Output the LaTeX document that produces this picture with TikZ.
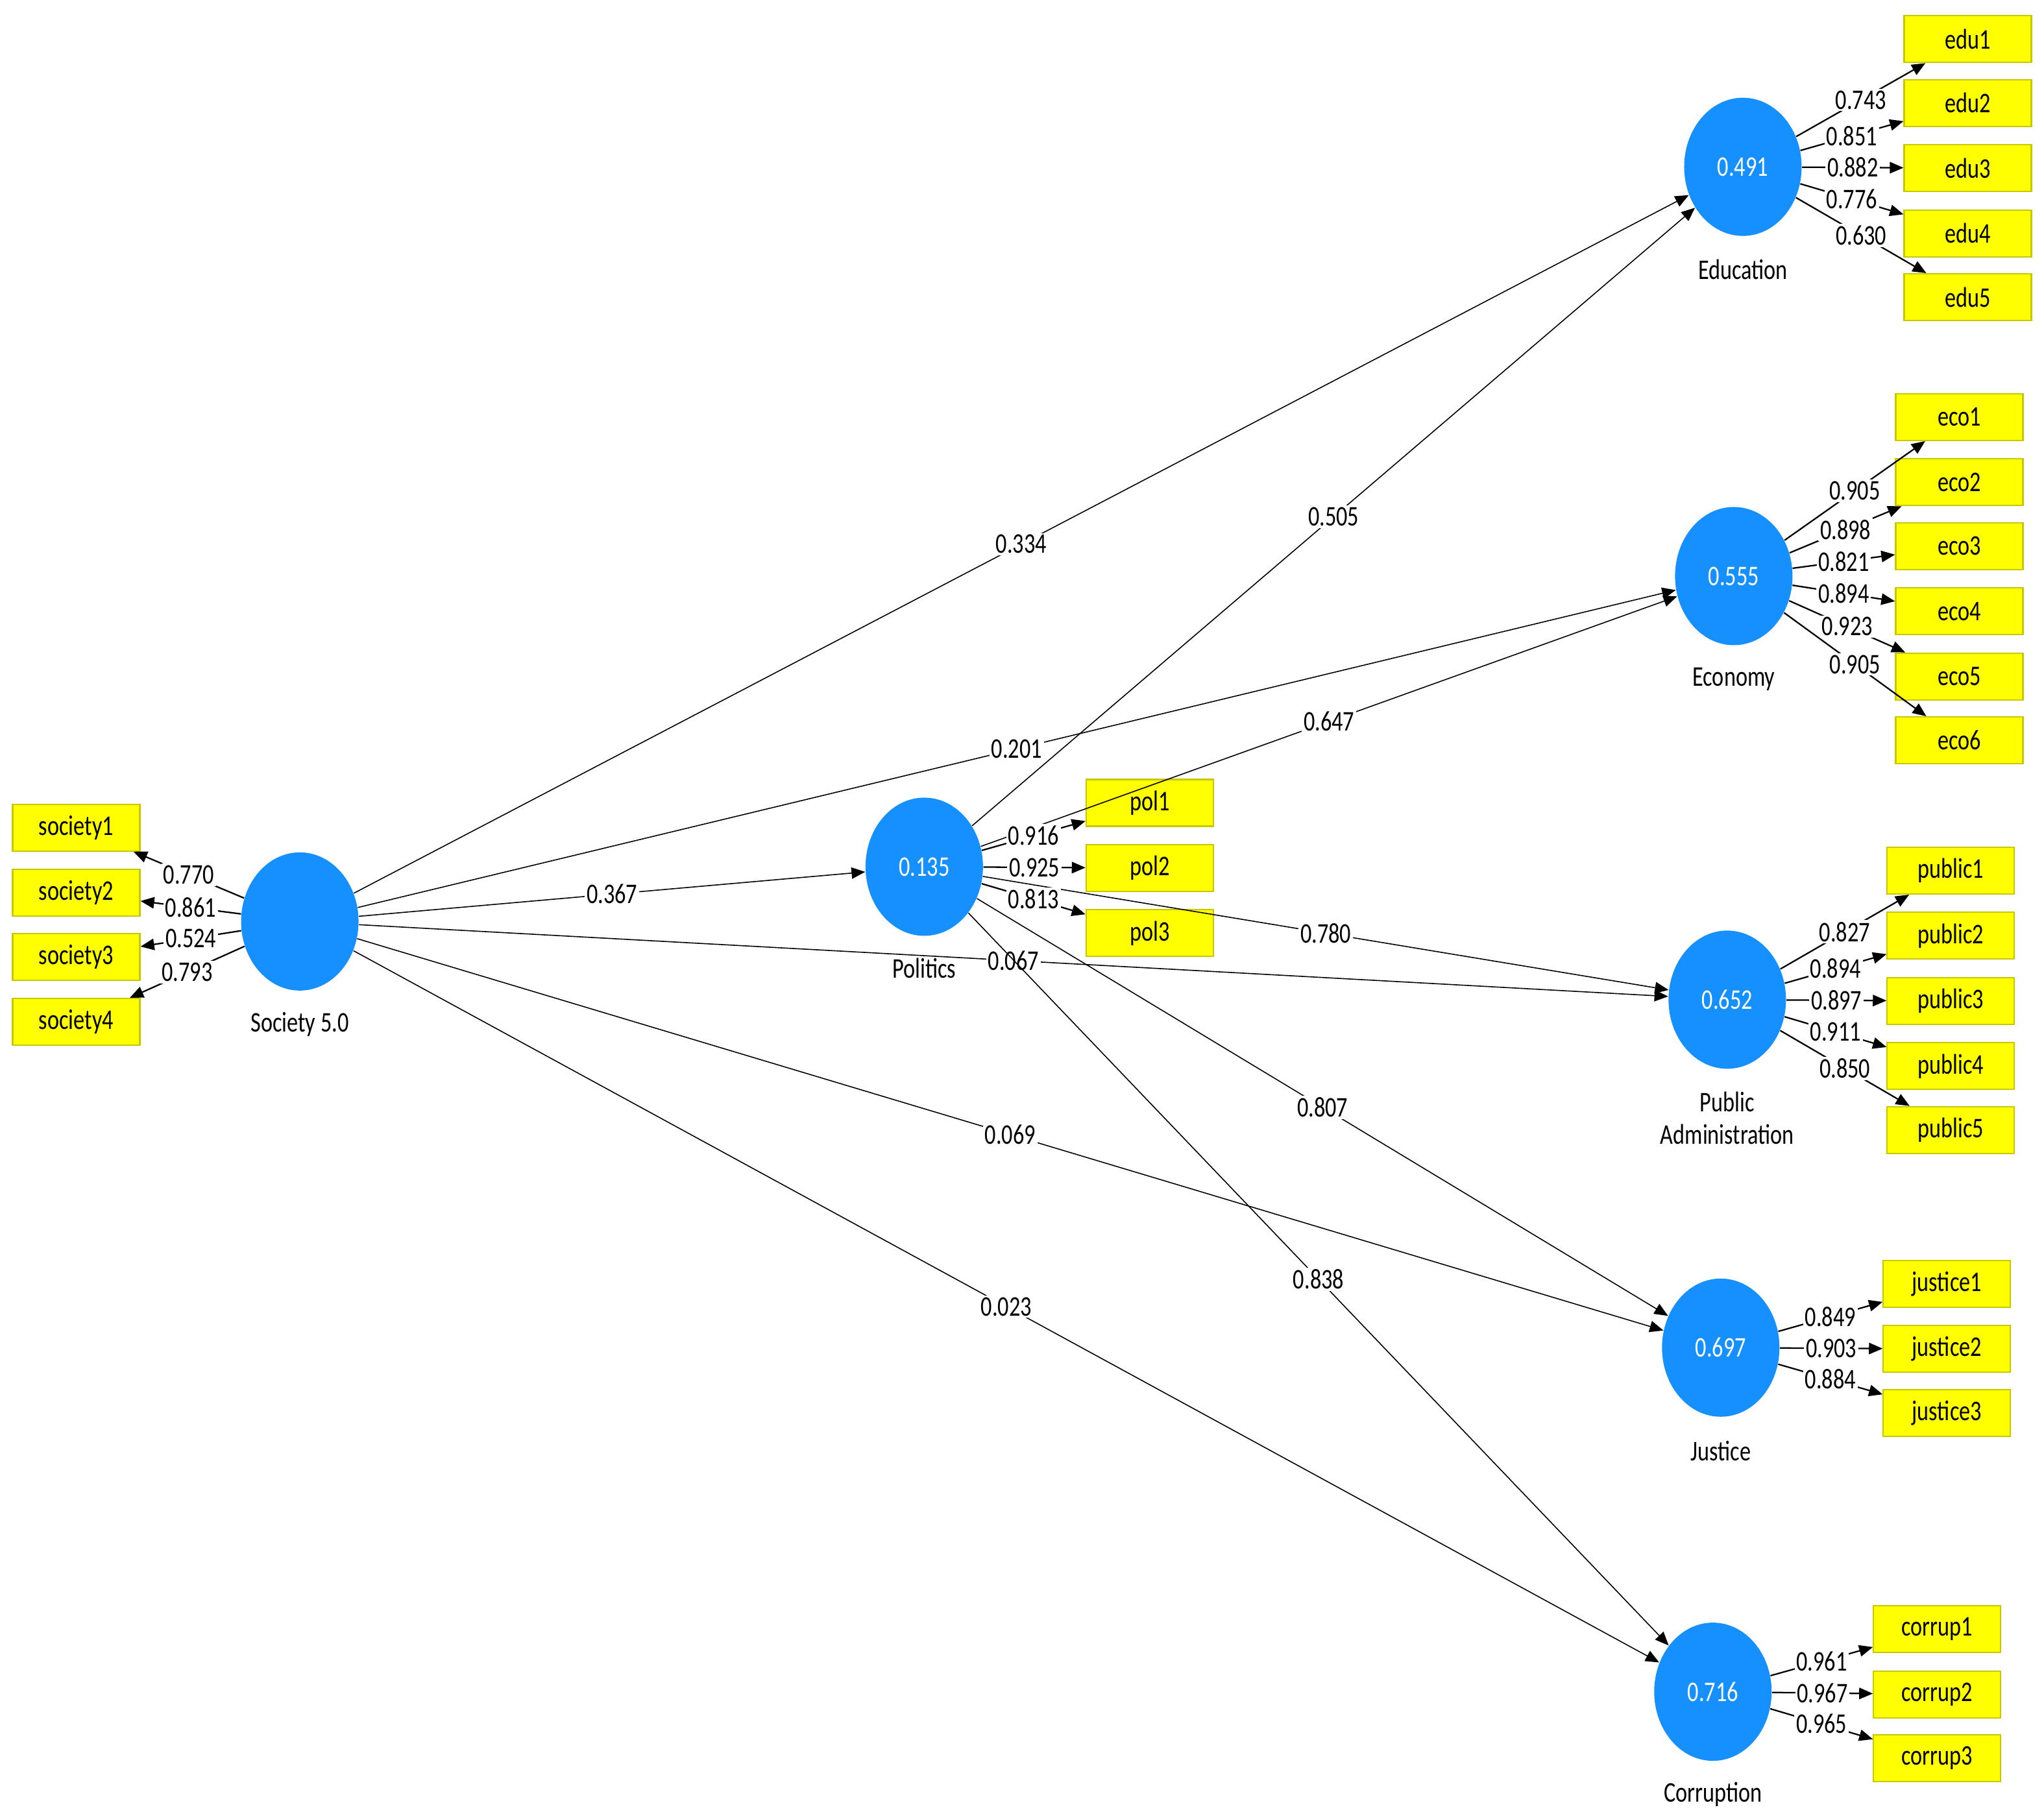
\documentclass[tikz,border=0pt]{standalone}
\usepackage{fontspec}
\newfontfamily\plsfont{Carlito}[FakeStretch=0.78]
\usetikzlibrary{arrows.meta,shapes.geometric}
\definecolor{plsblue}{RGB}{22,144,255}
\definecolor{boxyellow}{RGB}{255,255,0}
\definecolor{boxedge}{RGB}{200,200,0}
\tikzset{
  lv/.style={ellipse, fill=plsblue, draw=none, minimum width=18.1mm, minimum height=21.3mm,
    inner sep=0pt, text=white, font=\plsfont\fontsize{12.5}{14}\selectfont},
  ind/.style={rectangle, fill=boxyellow, draw=boxedge, line width=0.6pt,
    minimum width=19.6mm, minimum height=7.2mm, inner sep=0pt,
    font=\plsfont\fontsize{12.5}{14}\selectfont},
  lvname/.style={font=\plsfont\fontsize{12.5}{14.2}\selectfont, align=center, inner sep=0pt},
  coef/.style={fill=white, inner sep=0.8pt, font=\plsfont\fontsize{12.5}{14}\selectfont},
  conn/.style={draw=black, line width=0.45pt, -{Triangle[length=6pt,width=5pt]}},
  load/.style={draw=black, line width=0.65pt, -{Triangle[length=6pt,width=5pt]}}
}
\begin{document}
\begin{tikzpicture}[x=0.2009mm, y=-0.2009mm]
\useasboundingbox (0,0) rectangle (1568,1390);
% latent variables
\node[lv] (soc) at (230,707) {};
\node[lv] (pol) at (709,665) {0.135};
\node[lv] (edu) at (1337,128) {0.491};
\node[lv] (eco) at (1330,442) {0.555};
\node[lv] (pub) at (1325,767) {0.652};
\node[lv] (jus) at (1320,1034) {0.697};
\node[lv] (cor) at (1314,1298) {0.716};
% names
\node[lvname] (socn) at (230,786) {Society 5.0};
\node[lvname] (poln) at (709,743) {Politics};
\node[lvname] (edun) at (1337,207) {Education};
\node[lvname] (econ) at (1330,521) {Economy};
\node[lvname] (pubn) at (1325,858) {Public\\Administration};
\node[lvname] (jusn) at (1320,1113) {Justice};
\node[lvname] (corn) at (1314,1377) {Corruption};
% indicators
\node[ind] (s1) at (58.5,635) {society1};
\node[ind] (s2) at (58.5,685) {society2};
\node[ind] (s3) at (58.5,734) {society3};
\node[ind] (s4) at (58.5,784) {society4};
\node[ind] (p1) at (882,616) {pol1};
\node[ind] (p2) at (882,666) {pol2};
\node[ind] (p3) at (882,716) {pol3};
\node[ind] (e1) at (1509.5,30) {edu1};
\node[ind] (e2) at (1509.5,79) {edu2};
\node[ind] (e3) at (1509.5,129) {edu3};
\node[ind] (e4) at (1509.5,179) {edu4};
\node[ind] (e5) at (1509.5,228) {edu5};
\node[ind] (c1) at (1503,320) {eco1};
\node[ind] (c2) at (1503,370) {eco2};
\node[ind] (c3) at (1503,419) {eco3};
\node[ind] (c4) at (1503,469) {eco4};
\node[ind] (c5) at (1503,519) {eco5};
\node[ind] (c6) at (1503,568) {eco6};
\node[ind] (u1) at (1496.5,668) {public1};
\node[ind] (u2) at (1496.5,718) {public2};
\node[ind] (u3) at (1496.5,768) {public3};
\node[ind] (u4) at (1496.5,818) {public4};
\node[ind] (u5) at (1496.5,867) {public5};
\node[ind] (j1) at (1493.5,985) {justice1};
\node[ind] (j2) at (1493.5,1035) {justice2};
\node[ind] (j3) at (1493.5,1084) {justice3};
\node[ind] (r1) at (1486,1250) {corrup1};
\node[ind] (r2) at (1486,1300) {corrup2};
\node[ind] (r3) at (1486,1349) {corrup3};
% structural paths
\draw[conn] (soc) -- node[coef]{0.334} (edu);
\draw[conn] (soc) -- node[coef]{0.201} (eco);
\draw[conn] (soc) -- node[coef]{0.367} (pol);
\draw[conn] (soc) -- node[coef]{0.067} (pub);
\draw[conn] (soc) -- node[coef]{0.069} (jus);
\draw[conn] (soc) -- node[coef]{0.023} (cor);
\draw[conn] (pol) -- node[coef]{0.505} (edu);
\draw[conn] (pol) -- node[coef]{0.647} (eco);
\draw[conn] (pol) -- node[coef]{0.780} (pub);
\draw[conn] (pol) -- node[coef]{0.807} (jus);
\draw[conn] (pol) -- node[coef]{0.838} (cor);
% loadings
\draw[load] (soc) -- node[coef]{0.770} (s1);
\draw[load] (soc) -- node[coef]{0.861} (s2);
\draw[load] (soc) -- node[coef]{0.524} (s3);
\draw[load] (soc) -- node[coef]{0.793} (s4);
\draw[load] (pol) -- node[coef]{0.916} (p1);
\draw[load] (pol) -- node[coef]{0.925} (p2);
\draw[load] (pol) -- node[coef]{0.813} (p3);
\draw[load] (edu) -- node[coef]{0.743} (e1);
\draw[load] (edu) -- node[coef]{0.851} (e2);
\draw[load] (edu) -- node[coef]{0.882} (e3);
\draw[load] (edu) -- node[coef]{0.776} (e4);
\draw[load] (edu) -- node[coef]{0.630} (e5);
\draw[load] (eco) -- node[coef]{0.905} (c1);
\draw[load] (eco) -- node[coef]{0.898} (c2);
\draw[load] (eco) -- node[coef]{0.821} (c3);
\draw[load] (eco) -- node[coef]{0.894} (c4);
\draw[load] (eco) -- node[coef]{0.923} (c5);
\draw[load] (eco) -- node[coef]{0.905} (c6);
\draw[load] (pub) -- node[coef]{0.827} (u1);
\draw[load] (pub) -- node[coef]{0.894} (u2);
\draw[load] (pub) -- node[coef]{0.897} (u3);
\draw[load] (pub) -- node[coef]{0.911} (u4);
\draw[load] (pub) -- node[coef]{0.850} (u5);
\draw[load] (jus) -- node[coef]{0.849} (j1);
\draw[load] (jus) -- node[coef]{0.903} (j2);
\draw[load] (jus) -- node[coef]{0.884} (j3);
\draw[load] (cor) -- node[coef]{0.961} (r1);
\draw[load] (cor) -- node[coef]{0.967} (r2);
\draw[load] (cor) -- node[coef]{0.965} (r3);
\end{tikzpicture}
\end{document}
